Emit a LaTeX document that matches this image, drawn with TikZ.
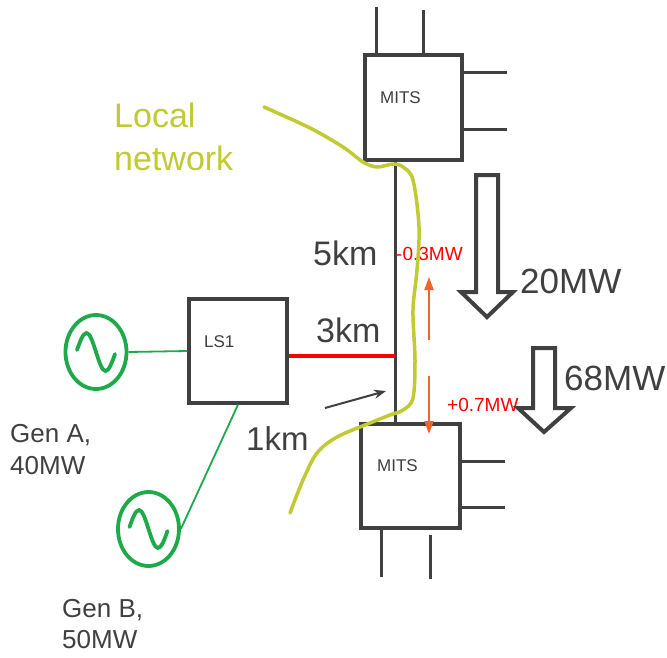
\documentclass[tikz,border=0pt]{standalone}
\usepackage{fontspec}
\setmainfont{Liberation Sans}
\usetikzlibrary{arrows.meta,shapes.geometric}
\definecolor{dg}{RGB}{64,64,64}
\definecolor{gg}{RGB}{30,170,75}
\definecolor{olive}{RGB}{192,202,50}
\definecolor{orng}{RGB}{240,100,40}
\definecolor{rd}{RGB}{255,0,0}
\begin{document}
\begin{tikzpicture}[x=1pt,y=-1pt,
  box/.style={draw=dg, line width=3.3pt, inner sep=0pt, rectangle},
  stub/.style={draw=dg, line width=3pt},
  gen/.style={ellipse, draw=gg, line width=3.8pt, minimum width=61pt, minimum height=74pt, inner sep=0pt},
  wave/.style={draw=gg, line width=3.8pt, line cap=round},
  gline/.style={draw=gg, line width=1.8pt},
  redline/.style={draw=rd, line width=3.5pt},
  txt/.style={inner sep=0pt, text=dg, anchor=base west},
  bigarrow/.style={draw=dg, line width=4pt, line join=miter},
  oarrow/.style={draw=orng, line width=2pt, -{Triangle[width=9pt,length=13pt]}},
  karrow/.style={draw=dg, line width=2pt, -{Stealth[width=9pt,length=12pt]}},
  curve/.style={draw=olive, line width=3.5pt, line cap=round}
]
\useasboundingbox (0,0) rectangle (667,657);
\fill[white] (0,0) rectangle (667,657);

% boxes
\node[box, minimum width=97pt, minimum height=105pt] (mitsA) at (413.5,107.5) {};
\node[box, minimum width=99pt, minimum height=104pt] (mitsB) at (410.5,476) {};
\node[box, minimum width=98pt, minimum height=104pt] (ls1) at (238,351) {};

\node[txt, font=\fontsize{17}{20}\selectfont] (mitsAt) at (380,103) {MITS};
\node[txt, font=\fontsize{17}{20}\selectfont] (mitsBt) at (377,471) {MITS};
\node[txt, font=\fontsize{17}{20}\selectfont] (ls1t) at (204,347) {LS1};

% stubs
\coordinate (sA1) at (376,7);
\coordinate (sA2) at (423,10);
\coordinate (sA3) at (507,72);
\coordinate (sA4) at (507,129);
\draw[stub] (sA1) -- (sA1 |- mitsA.north);
\draw[stub] (sA2) -- (sA2 |- mitsA.north);
\draw[stub] (sA3) -- (sA3 -| mitsA.east);
\draw[stub] (sA4) -- (sA4 -| mitsA.east);
\coordinate (sB1) at (381,577);
\coordinate (sB2) at (430,579);
\coordinate (sB3) at (505,461);
\coordinate (sB4) at (505,507);
\draw[stub] (sB1) -- (sB1 |- mitsB.south);
\draw[stub] (sB2) -- ([yshift=-5pt]sB2 |- mitsB.south);
\draw[stub] (sB3) -- (sB3 -| mitsB.east);
\draw[stub] (sB4) -- (sB4 -| mitsB.east);

% bus
\coordinate (bus) at (395,0);
\draw[stub] (mitsA.south -| bus) -- (mitsB.north -| bus);
\coordinate (tap) at (395,356);
\draw[redline] (ls1.east |- tap) -- (tap);

% generators
\node[gen] (genA) at (96,352) {};
\node[gen] (genB) at (148.5,529) {};
\draw[wave] (genA.center) ++(-19,-2) sin ++(9.5,-17) cos ++(9.5,19) sin ++(9.5,19) cos ++(9.5,-17);
\draw[wave] (genB.center) ++(-19,-2) sin ++(9.5,-17) cos ++(9.5,19) sin ++(9.5,19) cos ++(9.5,-17);
\draw[gline] (genA.east) -- (ls1.west);
\draw[gline] (ls1.south) -- (genB.east);

% labels
\node[txt, font=\fontsize{26}{32}\selectfont] (genAt1) at (10,442) {Gen A,};
\node[txt, font=\fontsize{26}{32}\selectfont] (genAt2) at (10,474) {40MW};
\node[txt, font=\fontsize{26}{32}\selectfont] (genBt1) at (62,617) {Gen B,};
\node[txt, font=\fontsize{26}{32}\selectfont] (genBt2) at (62,648) {50MW};
\node[txt, text=olive, font=\fontsize{34}{43}\selectfont] (loc1) at (114,127) {Local};
\node[txt, text=olive, font=\fontsize{34}{43}\selectfont] (loc2) at (114,170) {network};
\node[txt, font=\fontsize{34}{40}\selectfont] (km5) at (313,265) {5km};
\node[txt, font=\fontsize{34}{40}\selectfont] (km3) at (316,342) {3km};
\node[txt, font=\fontsize{33}{40}\selectfont] (km1) at (246,450) {1km};
\node[txt, font=\fontsize{35}{40}\selectfont] (mw20) at (520,293) {20MW};
\node[txt, font=\fontsize{35}{40}\selectfont] (mw68) at (564,390) {68MW};
\node[txt, text=rd, font=\fontsize{19}{22}\selectfont] (m03) at (396,260) {-0.3MW};
\node[txt, text=rd, font=\fontsize{19}{22}\selectfont] (p07) at (447,411) {+0.7MW};

% big flow arrows
\draw[bigarrow] (476,175) -- (498,175) -- (498,292) -- (513,292) -- (487,317) -- (461,292) -- (476,292) -- cycle;
\draw[bigarrow] (533,348) -- (555,348) -- (555,408) -- (571,408) -- (544,432) -- (518,408) -- (533,408) -- cycle;

% orange arrows
\coordinate (oa1) at (429,340);
\coordinate (oa2) at (429,277);
\coordinate (ob1) at (429,376);
\coordinate (ob2) at (429,434);
\draw[oarrow] (oa1) -- (oa2);
\draw[oarrow] (ob1) -- (ob2);

% small black arrow
\coordinate (ka1) at (325,408);
\coordinate (ka2) at (386,391);
\draw[karrow] (ka1) -- (ka2);

% local network boundary
\draw[curve] plot[smooth, tension=0.55] coordinates {(264,107) (310,128) (343,147) (363,162) (377,167) (393,164) (403,167) (413,180) (419,227) (417,270) (413,310) (415,360) (413,398) (403,410) (390,415) (370,423) (337,437) (317,453) (303,480) (290,513)};
\end{tikzpicture}
\end{document}
